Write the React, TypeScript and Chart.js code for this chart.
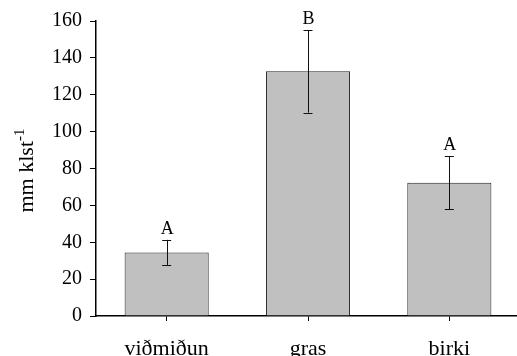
import React, { useEffect, useRef } from 'react';
import { Chart, registerables } from 'chart.js';

Chart.register(...registerables);

const categories = ['viðmiðun', 'gras', 'birki'];
const means = [34.5, 132.7, 72.3];
const errors = [6.8, 22.4, 14.4];
const groupLetters = ['A', 'B', 'A'];
const yMin = 0;
const yMax = 160;
const yStep = 20;
const yTitle = 'mm klst';
const yTitleSup = '-1';

const FONT = '"Liberation Serif", "Times New Roman", serif';

const extrasPlugin = {
  id: 'extras',
  afterDatasetsDraw(chart: any) {
    const ctx = chart.ctx;
    const yScale = chart.scales.y;
    const meta = chart.getDatasetMeta(0);
    ctx.save();
    meta.data.forEach((el: any, i: number) => {
      const x = el.x;
      const top = yScale.getPixelForValue(means[i] + errors[i]);
      const bot = yScale.getPixelForValue(means[i] - errors[i]);
      ctx.strokeStyle = '#111';
      ctx.lineWidth = 1;
      ctx.beginPath();
      ctx.moveTo(Math.round(x) + 0.5, top);
      ctx.lineTo(Math.round(x) + 0.5, bot);
      ctx.moveTo(x - 4.5, Math.round(top) + 0.5);
      ctx.lineTo(x + 4.5, Math.round(top) + 0.5);
      ctx.moveTo(x - 4.5, Math.round(bot) + 0.5);
      ctx.lineTo(x + 4.5, Math.round(bot) + 0.5);
      ctx.stroke();
      ctx.fillStyle = '#000';
      ctx.font = `18px ${FONT}`;
      ctx.textAlign = 'center';
      ctx.textBaseline = 'alphabetic';
      ctx.fillText(groupLetters[i], x + 0.5, top - 6);
    });
    ctx.restore();
  },
  afterDraw(chart: any) {
    const ctx = chart.ctx;
    const area = chart.chartArea;
    ctx.save();
    ctx.fillStyle = '#000';
    ctx.font = `22px ${FONT}`;
    const w1 = ctx.measureText(yTitle).width;
    ctx.font = `15px ${FONT}`;
    const w2 = ctx.measureText(yTitleSup).width;
    const total = w1 + w2;
    const cy = (area.top + area.bottom) / 2 + 2;
    ctx.translate(33, cy + total / 2);
    ctx.rotate(-Math.PI / 2);
    ctx.textAlign = 'left';
    ctx.textBaseline = 'alphabetic';
    ctx.font = `22px ${FONT}`;
    ctx.fillText(yTitle, 0, 0);
    ctx.font = `15px ${FONT}`;
    ctx.fillText(yTitleSup, w1, -9);
    ctx.restore();
  },
};

export default function App() {
  const ref = useRef<HTMLCanvasElement | null>(null);
  useEffect(() => {
    if (!ref.current) return;
    const chart = new Chart(ref.current, {
      type: 'bar',
      data: {
        labels: categories,
        datasets: [
          {
            data: means,
            backgroundColor: '#c0c0c0',
            borderColor: '#222',
            borderWidth: 1,
            barPercentage: 0.595,
            categoryPercentage: 1,
          },
        ],
      },
      options: {
        responsive: false,
        animation: false,
        devicePixelRatio: 1,
        layout: { padding: { top: 21, right: 0, left: 0, bottom: 0 } },
        plugins: { legend: { display: false }, tooltip: { enabled: false } },
        scales: {
          x: {
            grid: { display: true, drawOnChartArea: false, offset: false, tickLength: 5, color: '#000', lineWidth: 1 },
            border: { color: '#000', width: 1.5 },
            ticks: { color: '#000', font: { family: FONT, size: 22 }, padding: 15, maxRotation: 0 },
            afterFit(s: any) { s.height = 40; },
          },
          y: {
            min: yMin,
            max: yMax,
            ticks: { stepSize: yStep, color: '#000', font: { family: FONT, size: 20 }, padding: 8 },
            grid: { drawOnChartArea: false, tickLength: 6, color: '#000', lineWidth: 1 },
            border: { color: '#000', width: 1.5 },
            afterFit(s: any) { s.width = 96; },
          },
        },
      },
      plugins: [extrasPlugin],
    } as any);
    return () => chart.destroy();
  }, []);
  return (
    <div style={{ position: 'fixed', left: 0, top: 0, width: 520, height: 356, background: '#fff' }}>
      <canvas ref={ref} width={520} height={356} style={{ display: 'block' }} />
    </div>
  );
}
